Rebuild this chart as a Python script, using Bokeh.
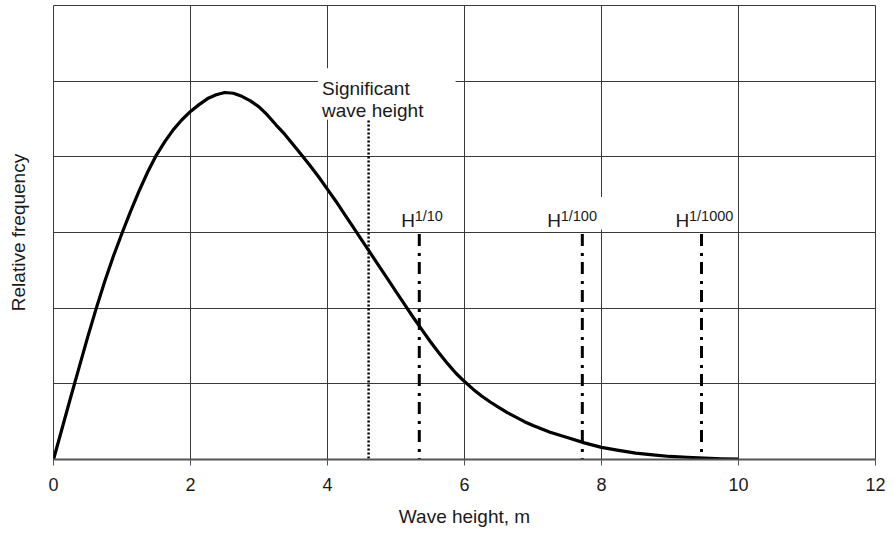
from bokeh.plotting import figure
from bokeh.models import Range1d, FixedTicker, Label, BoxAnnotation
from bokeh.embed import file_html
from bokeh.resources import INLINE

# Curve (wave height, relative frequency in grid units)
wave_height = [0.0, 0.125, 0.25, 0.375, 0.5, 0.625, 0.75, 0.875, 1.0, 1.125,
               1.25, 1.375, 1.5, 1.625, 1.75, 1.875, 2.0, 2.125, 2.25, 2.375,
               2.5, 2.625, 2.75, 2.875, 3.0, 3.125, 3.25, 3.375, 3.5, 3.625,
               3.75, 3.875, 4.0, 4.125, 4.25, 4.375, 4.5, 4.625, 4.75, 4.875,
               5.0, 5.125, 5.25, 5.375, 5.5, 5.625, 5.75, 5.875, 6.0, 6.125,
               6.25, 6.375, 6.5, 6.625, 6.75, 6.875, 7.0, 7.25, 7.5, 7.75,
               8.0, 8.25, 8.5, 8.75, 9.0, 9.25, 9.5, 9.75, 10.0]
rel_freq = [0.0, 0.41, 0.82, 1.22, 1.62, 2.00, 2.36, 2.69, 2.99, 3.28,
            3.55, 3.80, 4.02, 4.20, 4.36, 4.49, 4.60, 4.69, 4.77, 4.82,
            4.85, 4.84, 4.80, 4.74, 4.66, 4.55, 4.42, 4.30, 4.16, 4.02,
            3.88, 3.73, 3.57, 3.41, 3.24, 3.07, 2.90, 2.73, 2.56, 2.39,
            2.22, 2.05, 1.88, 1.72, 1.56, 1.41, 1.27, 1.14, 1.03, 0.93,
            0.84, 0.76, 0.69, 0.62, 0.56, 0.50, 0.45, 0.36, 0.29, 0.22,
            0.16, 0.12, 0.085, 0.06, 0.04, 0.03, 0.02, 0.01, 0.005]

# Marker lines
sig_height = 4.60
sig_top = 4.48
h_names = ["1/10", "1/100", "1/1000"]
h_values = [5.34, 7.72, 9.46]
h_top = 2.98

x_ticks = [0, 2, 4, 6, 8, 10, 12]
y_grid = [0, 1, 2, 3, 4, 5, 6]

FONT = "Liberation Sans"
TXT = "#1a1a1a"

p = figure(width=893, height=534, output_backend="svg", toolbar_location=None,
           x_range=Range1d(0, 12), y_range=Range1d(0, 6),
           min_border_left=53, min_border_right=18, min_border_top=5,
           min_border_bottom=75)
p.background_fill_color = "white"
p.border_fill_color = "white"
p.outline_line_color = "#3a3a3a"
p.outline_line_width = 1

# x axis
p.xaxis.ticker = FixedTicker(ticks=x_ticks)
p.xaxis.major_tick_out = 6
p.xaxis.major_tick_in = 0
p.xaxis.minor_tick_line_color = None
p.xaxis.axis_line_color = "#555555"
p.xaxis.axis_line_width = 2
p.xaxis.major_tick_line_color = "#555555"
p.xaxis.major_label_text_font = FONT
p.xaxis.major_label_text_font_size = "18px"
p.xaxis.major_label_text_color = TXT
p.xaxis.major_label_standoff = 12
p.xaxis.axis_label = "Wave height, m"
p.xaxis.axis_label_text_font = FONT
p.xaxis.axis_label_text_font_size = "19px"
p.xaxis.axis_label_text_font_style = "normal"
p.xaxis.axis_label_text_color = TXT
p.xaxis.axis_label_standoff = 12

# y axis (no ticks / labels)
p.yaxis.ticker = FixedTicker(ticks=[])
p.yaxis.axis_line_color = None
p.yaxis.major_tick_line_color = None
p.yaxis.minor_tick_line_color = None
p.yaxis.axis_label = "Relative frequency"
p.yaxis.axis_label_text_font = FONT
p.yaxis.axis_label_text_font_size = "19px"
p.yaxis.axis_label_text_font_style = "normal"
p.yaxis.axis_label_text_color = TXT
p.yaxis.axis_label_standoff = 25

# grids
p.xgrid.ticker = FixedTicker(ticks=x_ticks)
p.ygrid.ticker = FixedTicker(ticks=y_grid)
for g in (p.xgrid, p.ygrid):
    g.grid_line_color = "#3a3a3a"
    g.grid_line_width = 1
    g.grid_line_alpha = 1.0

# curve
p.line(wave_height, rel_freq, line_color="black", line_width=3.2,
       line_join="round")

# significant wave height (dotted)
p.segment(x0=[sig_height], y0=[sig_top], x1=[sig_height], y1=[0],
          line_color="black", line_width=2.5, line_dash="2 2")

# H 1/n lines (dash-dot)
p.segment(x0=h_values, y0=[h_top] * 3, x1=h_values, y1=[0] * 3,
          line_color="black", line_width=3, line_dash="12 7 3 6")

# white backgrounds behind the labels
p.add_layout(BoxAnnotation(left=3.86, right=5.87, bottom=4.49, top=5.17,
                           fill_color="white", fill_alpha=1.0, line_color=None))
p.add_layout(BoxAnnotation(left=7.11, right=8.07, bottom=3.04, top=3.47,
                           fill_color="white", fill_alpha=1.0, line_color=None))

# Significant wave height label
for txt, yy in (("Significant", 4.905), ("wave height", 4.613)):
    p.add_layout(Label(x=3.92, y=yy, text=txt, text_font=FONT,
                       text_font_size="19px", text_color=TXT,
                       text_baseline="alphabetic", text_align="left"))

# H labels with superscripts
h_label_x = [5.076, 7.207, 9.08]
for name, lx in zip(h_names, h_label_x):
    p.add_layout(Label(x=lx, y=3.156, text="H", text_font=FONT,
                       text_font_size="19px", text_color=TXT,
                       text_baseline="alphabetic", text_align="left"))
    p.add_layout(Label(x=lx, y=3.156, x_offset=13.5, y_offset=5, text=name,
                       text_font=FONT, text_font_size="14.5px", text_color=TXT,
                       text_baseline="alphabetic", text_align="left"))

open("out.html", "w").write(file_html(p, INLINE))
